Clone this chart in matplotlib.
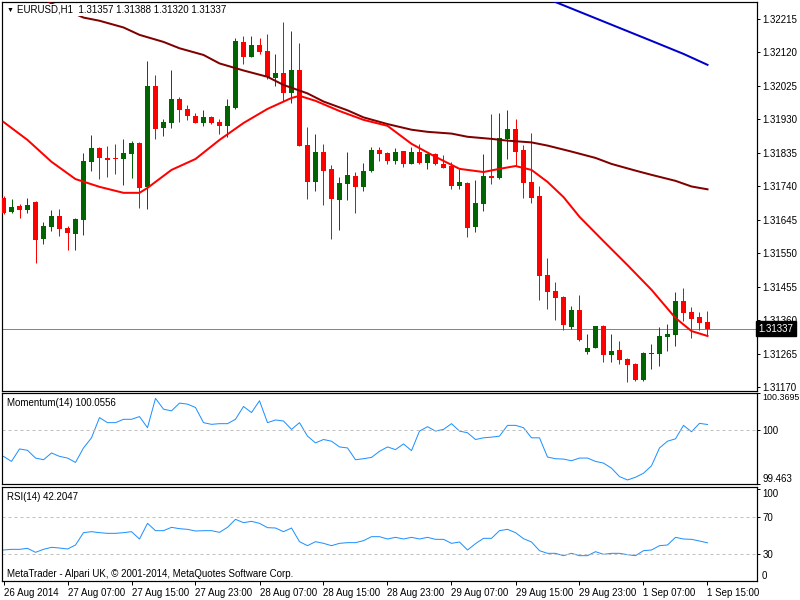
import matplotlib
matplotlib.use("Agg")
import matplotlib.pyplot as plt
import numpy as np

plt.rcParams['font.family'] = ['Liberation Sans', 'DejaVu Sans']

# EURUSD H1 candles, 26 Aug 23:00 .. 1 Sep 15:00
opens = [1.31707, 1.31668, 1.31686, 1.31673, 1.31696, 1.31591, 1.31625, 1.31656, 1.31622, 1.31605,
         1.31645, 1.31810, 1.31849, 1.31821, 1.31820, 1.31817, 1.31832, 1.31863, 1.31739, 1.32025,
         1.31906, 1.31920, 1.31988, 1.31960, 1.31940, 1.31920, 1.31937, 1.31923, 1.31912, 1.31963,
         1.32150, 1.32107, 1.32141, 1.32124, 1.32048, 1.32062, 1.32005, 1.32070, 1.31858, 1.31753,
         1.31838, 1.31790, 1.31702, 1.31747, 1.31770, 1.31739, 1.31784, 1.31844, 1.31835, 1.31812,
         1.31841, 1.31804, 1.31838, 1.31807, 1.31832, 1.31804, 1.31798, 1.31741, 1.31750, 1.31625,
         1.31690, 1.31770, 1.31764, 1.31875, 1.31903, 1.31844, 1.31753, 1.31713, 1.31489, 1.31444,
         1.31427, 1.31342, 1.31390, 1.31271, 1.31282, 1.31344, 1.31262, 1.31276, 1.31251, 1.31237,
         1.31191, 1.31265, 1.31266, 1.31313, 1.31319, 1.31415, 1.31384, 1.31370, 1.31357]
highs = [1.31713, 1.31705, 1.31690, 1.31707, 1.31699, 1.31639, 1.31673, 1.31676, 1.31628, 1.31651,
         1.31835, 1.31886, 1.31852, 1.31855, 1.31860, 1.31875, 1.31869, 1.31865, 1.32096, 1.32056,
         1.31931, 1.32070, 1.31994, 1.31971, 1.31948, 1.31957, 1.31940, 1.31931, 1.31988, 1.32161,
         1.32167, 1.32167, 1.32161, 1.32173, 1.32116, 1.32207, 1.32181, 1.32147, 1.31909, 1.31889,
         1.31861, 1.31801, 1.31767, 1.31838, 1.31781, 1.31807, 1.31852, 1.31852, 1.31838, 1.31849,
         1.31841, 1.31852, 1.31860, 1.31835, 1.31835, 1.31829, 1.31809, 1.31790, 1.31753, 1.31758,
         1.31832, 1.31946, 1.31948, 1.31957, 1.31931, 1.31858, 1.31892, 1.31741, 1.31537, 1.31469,
         1.31430, 1.31401, 1.31432, 1.31322, 1.31344, 1.31347, 1.31322, 1.31302, 1.31253, 1.31240,
         1.31270, 1.31293, 1.31342, 1.31350, 1.31441, 1.31452, 1.31398, 1.31384, 1.31388]
lows = [1.31662, 1.31665, 1.31651, 1.31665, 1.31523, 1.31577, 1.31614, 1.31600, 1.31560, 1.31560,
        1.31602, 1.31784, 1.31761, 1.31767, 1.31775, 1.31744, 1.31764, 1.31679, 1.31676, 1.31875,
        1.31883, 1.31906, 1.31923, 1.31929, 1.31920, 1.31912, 1.31917, 1.31889, 1.31880, 1.31960,
        1.32087, 1.32107, 1.32116, 1.32045, 1.32025, 1.31982, 1.31977, 1.31855, 1.31705, 1.31727,
        1.31688, 1.31591, 1.31617, 1.31702, 1.31665, 1.31727, 1.31781, 1.31812, 1.31804, 1.31804,
        1.31795, 1.31804, 1.31804, 1.31790, 1.31801, 1.31792, 1.31733, 1.31733, 1.31597, 1.31611,
        1.31670, 1.31747, 1.31761, 1.31818, 1.31798, 1.31707, 1.31693, 1.31418, 1.31393, 1.31361,
        1.31333, 1.31336, 1.31302, 1.31265, 1.31282, 1.31242, 1.31242, 1.31237, 1.31186, 1.31188,
        1.31188, 1.31222, 1.31231, 1.31274, 1.31288, 1.31359, 1.31310, 1.31333, 1.31320]
closes = [1.31665, 1.31682, 1.31674, 1.31687, 1.31588, 1.31628, 1.31656, 1.31619, 1.31608, 1.31648,
          1.31812, 1.31849, 1.31821, 1.31815, 1.31817, 1.31835, 1.31863, 1.31736, 1.32025, 1.31903,
          1.31923, 1.31988, 1.31957, 1.31940, 1.31920, 1.31937, 1.31920, 1.31912, 1.31968, 1.32153,
          1.32107, 1.32141, 1.32121, 1.32051, 1.32062, 1.32005, 1.32070, 1.31855, 1.31753, 1.31838,
          1.31784, 1.31705, 1.31750, 1.31773, 1.31739, 1.31784, 1.31844, 1.31832, 1.31812, 1.31838,
          1.31804, 1.31838, 1.31807, 1.31832, 1.31804, 1.31792, 1.31741, 1.31753, 1.31622, 1.31693,
          1.31770, 1.31764, 1.31878, 1.31903, 1.31838, 1.31750, 1.31707, 1.31486, 1.31441, 1.31424,
          1.31347, 1.31390, 1.31305, 1.31282, 1.31344, 1.31262, 1.31273, 1.31248, 1.31234, 1.31191,
          1.31268, 1.31268, 1.31316, 1.31322, 1.31415, 1.31381, 1.31364, 1.31353, 1.31337]

# moving averages, read at a few bars
ma_fast_idx = [0, 3, 6, 9, 12, 15, 17, 18, 21, 24, 27, 30, 33, 36, 37, 39, 42, 45, 48, 51, 54, 57,
               60, 62, 64, 66, 68, 70, 72, 75, 78, 81, 84, 86, 88]
ma_fast = [1.31923, 1.31872, 1.31810, 1.31761, 1.31739, 1.31722, 1.31722, 1.31736, 1.31787, 1.31818,
           1.31872, 1.31920, 1.31960, 1.31991, 1.31997, 1.31983, 1.31954, 1.31929, 1.31912, 1.31861,
           1.31824, 1.31790, 1.31781, 1.31790, 1.31798, 1.31787, 1.31753, 1.31710, 1.31654, 1.31585,
           1.31517, 1.31447, 1.31367, 1.31330, 1.31316]
ma_mid_idx = [5, 6, 10, 12, 15, 17, 20, 22, 25, 27, 30, 33, 35, 38, 40, 43, 45, 48, 51, 53, 56, 58,
              61, 63, 66, 68, 71, 74, 76, 79, 81, 84, 86, 88]
ma_mid = [1.32272, 1.32259, 1.32219, 1.32210, 1.32191, 1.32170, 1.32150, 1.32132, 1.32113, 1.32089,
          1.32069, 1.32051, 1.32028, 1.32004, 1.31981, 1.31956, 1.31936, 1.31917, 1.31901, 1.31895,
          1.31890, 1.31881, 1.31875, 1.31870, 1.31865, 1.31856, 1.31839, 1.31821, 1.31804, 1.31785,
          1.31773, 1.31756, 1.31740, 1.31732]
ma_slow_idx = [68, 69, 75, 81, 85, 88]
ma_slow = [1.32272, 1.32263, 1.32208, 1.32153, 1.32116, 1.32085]

momentum = [99.7383, 99.6880, 99.8122, 99.7987, 99.7215, 99.7047, 99.7719, 99.7383, 99.7215, 99.6779,
            99.8222, 99.9230, 100.1244, 100.0741, 100.0741, 100.1076, 100.1076, 100.1345, 100.0237, 100.3158,
            100.2083, 100.1916, 100.2688, 100.2587, 100.2251, 100.0741, 100.0573, 100.0640, 100.0640, 100.1076,
            100.2352, 100.1748, 100.2923, 100.0741, 100.1009, 100.0908, 100.0069, 100.0741, 99.9398, 99.8726,
            99.9062, 99.8894, 99.8323, 99.8222, 99.7047, 99.7148, 99.7282, 99.7887, 99.8323, 99.8055,
            99.8625, 99.7954, 99.9901, 100.0338, 99.9901, 100.0069, 100.0640, 99.9901, 99.9733, 99.9062,
            99.9230, 99.9297, 99.9398, 100.0472, 100.0472, 100.0237, 99.9230, 99.9230, 99.7316, 99.7148,
            99.7114, 99.6947, 99.7215, 99.7215, 99.6880, 99.6712, 99.6208, 99.5369, 99.5033, 99.5301,
            99.5704, 99.6443, 99.8222, 99.8894, 99.9129, 100.0472, 99.9834, 100.0673, 100.0556]
rsi = [34.58, 35.29, 35.29, 36.35, 32.10, 35.29, 37.41, 36.70, 35.64, 39.90,
       53.02, 54.08, 53.02, 52.31, 52.31, 53.02, 54.08, 46.28, 62.95, 55.14,
       55.14, 58.69, 57.27, 56.56, 54.79, 55.14, 55.14, 53.37, 58.69, 67.20,
       63.66, 65.07, 62.95, 58.34, 57.98, 54.08, 57.98, 43.44, 39.19, 43.44,
       41.67, 39.19, 41.67, 42.38, 42.38, 44.51, 48.76, 48.76, 46.28, 48.05,
       46.28, 48.05, 46.28, 48.05, 45.92, 45.92, 41.67, 43.09, 34.58, 41.32,
       46.99, 46.99, 55.14, 56.56, 53.02, 46.63, 43.09, 33.87, 31.03, 31.03,
       28.55, 31.03, 28.55, 28.55, 32.80, 29.97, 31.03, 31.03, 29.61, 28.55,
       33.87, 34.58, 39.19, 39.90, 48.05, 46.28, 45.92, 44.15, 42.2047]

time_tick_idx = [0, 8, 16, 24, 32, 40, 48, 56, 64, 72, 80, 88]
time_labels = ['26 Aug 2014', '27 Aug 07:00', '27 Aug 15:00', '27 Aug 23:00', '28 Aug 07:00',
               '28 Aug 15:00', '28 Aug 23:00', '29 Aug 07:00', '29 Aug 15:00', '29 Aug 23:00',
               '1 Sep 07:00', '1 Sep 15:00']
price_ticks = [1.31170, 1.31265, 1.31360, 1.31455, 1.31550, 1.31645, 1.31740, 1.31835,
               1.31930, 1.32025, 1.32120, 1.32215]
last_price = 1.31337

W, H = 800, 600
PX = 72.0 / 100  # one pixel in points
FS = 7

def box(x0, y0, x1, y1):
    return [x0 / W, 1 - y1 / H, (x1 - x0) / W, (y1 - y0) / H]

fig = plt.figure(figsize=(8, 6), dpi=100)
ax = fig.add_axes(box(2, 2, 757, 391))
axm = fig.add_axes(box(2, 393, 757, 484))
axr = fig.add_axes(box(2, 487, 757, 581))

xlim = (-1.5 / 8, 753.5 / 8)
for a in (ax, axm, axr):
    a.set_xlim(*xlim)
    for s in a.spines.values():
        s.set_linewidth(PX * 1.2)
        s.set_color('black')
    a.tick_params(axis='x', bottom=False, labelbottom=False)
    a.yaxis.tick_right()
    a.tick_params(axis='y', direction='out', length=3 * PX, width=PX, pad=2,
                  labelsize=FS, colors='black')

# candles
x = np.arange(len(opens))
o = np.array(opens); c = np.array(closes)
up = c >= o
col = np.where(up, '#006400', '#ff0000')
ax.vlines(x, lows, highs, colors=col, linewidth=PX, zorder=2)
bottom = np.minimum(o, c)
height = np.maximum(np.abs(c - o), 0.00003)
ax.bar(x, height, bottom=bottom, width=0.625, color=col, linewidth=0, zorder=3)

ax.axhline(last_price, color='#778899', linewidth=PX, zorder=1)
ax.plot(ma_mid_idx, ma_mid, color='#800000', linewidth=2 * PX, zorder=4)
ax.plot(ma_fast_idx, ma_fast, color='#ff0000', linewidth=2 * PX, zorder=4)
ax.plot(ma_slow_idx, ma_slow, color='#0000cd', linewidth=2 * PX, zorder=4)
ax.set_ylim(1.31160, 1.322632)
ax.set_yticks(price_ticks)
ax.set_yticklabels(['%.5f' % p for p in price_ticks])
ax.text(1.002, last_price, '%.5f' % last_price, transform=ax.get_yaxis_transform(),
        color='white', fontsize=FS, va='center', ha='left', clip_on=False,
        bbox=dict(boxstyle='square,pad=0.25', fc='black', ec='black'))

# momentum
axm.plot(x, momentum, color='#1e90ff', linewidth=PX)
axm.axhline(100, color='#c0c0c0', linestyle=(0, (3, 3)), linewidth=PX)
axm.set_ylim(99.463, 100.3695)
axm.set_yticks([99.463, 100, 100.3695])
axm.set_yticklabels(['99.463', '100', '100.3695'])
lab = axm.get_yticklabels()
lab[0].set_va('bottom'); lab[2].set_va('top'); lab[2].set_fontsize(6.4)

# RSI
axr.plot(x, rsi, color='#1e90ff', linewidth=PX)
for lv in (30, 70):
    axr.axhline(lv, color='#c0c0c0', linestyle=(0, (3, 3)), linewidth=PX)
axr.set_ylim(1.6, 101.6)
axr.set_yticks([30, 70, 100])
axr.set_yticklabels(['30', '70', '100'])
axr.get_yticklabels()[2].set_va('top')
axr.text(1.0 + 5 / 755, 1.6, '0', transform=axr.get_yaxis_transform(), fontsize=FS,
         va='bottom', ha='left', clip_on=False)

axr.tick_params(axis='x', bottom=True, labelbottom=True, direction='out', length=4 * PX,
                width=PX, pad=2, labelsize=FS)
axr.set_xticks(time_tick_idx)
axr.set_xticklabels(time_labels, ha='left')

# captions
fig.text(7 / W, 1 - 10 / H, '\u25bc', fontsize=5, va='center', ha='left')
fig.text(17 / W, 1 - 10 / H, 'EURUSD,H1  1.31357 1.31388 1.31320 1.31337', fontsize=FS,
         va='center', ha='left', bbox=dict(boxstyle='square,pad=0.15', fc='white', ec='none'))
fig.text(7 / W, 1 - 403 / H, 'Momentum(14) 100.0556', fontsize=FS, va='center', ha='left')
fig.text(7 / W, 1 - 497 / H, 'RSI(14) 42.2047', fontsize=FS, va='center', ha='left')
fig.text(7 / W, 1 - 574 / H, 'MetaTrader - Alpari UK, \u00a9 2001-2014, MetaQuotes Software Corp.',
         fontsize=FS, va='center', ha='left')

fig.savefig('out.png', dpi=100)
